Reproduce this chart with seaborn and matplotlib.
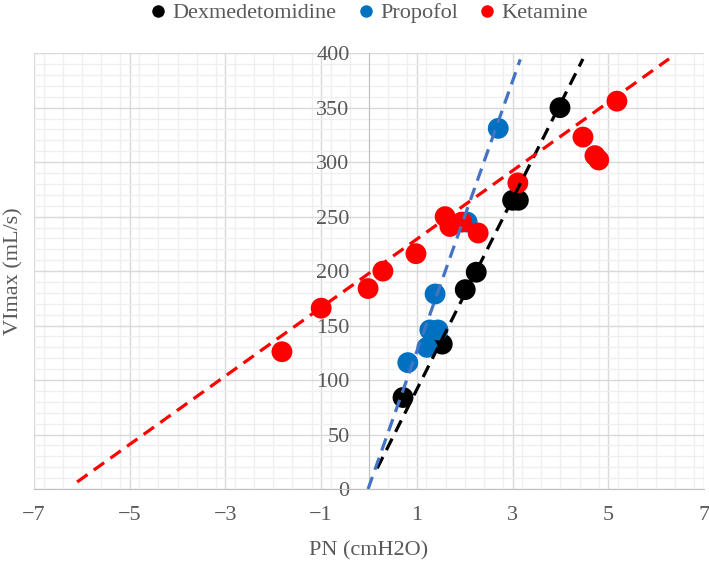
import matplotlib
matplotlib.use("Agg")
import matplotlib.pyplot as plt
import numpy as np
import pandas as pd
import seaborn as sns
from matplotlib.ticker import MultipleLocator

# values
dex_x = [0.71, 1.53, 2.01, 2.24, 3.00, 3.12, 3.99]
dex_y = [84, 133, 183, 199, 265, 265, 350]
prop_x = [0.81, 1.21, 1.27, 1.44, 1.38, 2.05, 2.70]
prop_y = [116, 130, 146, 146, 179, 245, 331]
ket_x = [-1.82, -1.00, -0.02, 0.29, 0.98, 1.59, 1.69, 1.94, 2.28, 3.11, 4.47, 4.72, 4.80, 5.18]
ket_y = [126, 166, 184, 200, 216, 250, 241, 245, 235, 281, 323, 306, 302, 356]

drugs = ["Dexmedetomidine", "Propofol", "Ketamine"]
# linear trend lines as shown in the chart (slope, intercept, x from, x to)
trend_slope = [87.4, 124.0, 31.4]
trend_icpt = [4.1, 2.5, 198.0]
trend_from = [0.17, -0.02, -6.1]
trend_to = [4.47, 3.16, 6.27]

colors = {"Dexmedetomidine": "#000000", "Propofol": "#0070C0", "Ketamine": "#FF0000"}
trend_colors = ["#000000", "#4472C4", "#FF0000"]

df = pd.concat([
    pd.DataFrame({"PN": dex_x, "VImax": dex_y, "drug": "Dexmedetomidine"}),
    pd.DataFrame({"PN": prop_x, "VImax": prop_y, "drug": "Propofol"}),
    pd.DataFrame({"PN": ket_x, "VImax": ket_y, "drug": "Ketamine"}),
], ignore_index=True)

sns.set_style("white")
plt.rcParams['font.family'] = ['Liberation Serif', 'DejaVu Serif']
grey = "#595959"

fig = plt.figure(figsize=(7.09, 5.66), dpi=100)
ax = fig.add_axes([0.048, 0.136, 0.945, 0.770])

sns.scatterplot(data=df, x="PN", y="VImax", hue="drug", hue_order=drugs,
                palette=colors, s=225, linewidth=0, ax=ax, zorder=3, legend=True)

# trend lines, drawn over the markers
for i in range(len(drugs)):
    xs = np.array([trend_from[i], trend_to[i]])
    ax.plot(xs, trend_slope[i] * xs + trend_icpt[i], color=trend_colors[i],
            lw=2.3, dashes=(4, 2.4), zorder=4)

ax.set_xlim(-7, 7)
ax.set_ylim(0, 400)
ax.xaxis.set_minor_locator(MultipleLocator(0.4))
ax.yaxis.set_major_locator(MultipleLocator(50))
ax.yaxis.set_minor_locator(MultipleLocator(10))
ax.set_xticks([-7, -5, -3, -1, 1, 3, 5, 7])
ax.set_xticklabels(["\u22127", "\u22125", "\u22123", "\u22121", "1", "3", "5", "7"])

ax.grid(which="major", color="#d9d9d9", lw=1.0, zorder=0)
ax.grid(which="minor", color="#efefef", lw=0.9, zorder=0)
ax.set_axisbelow(True)

for s in ["top", "right"]:
    ax.spines[s].set_visible(False)
ax.spines["left"].set_position(("data", 0))
ax.spines["left"].set_color("#bfbfbf")
ax.spines["bottom"].set_color("#bfbfbf")
ax.tick_params(which="major", direction="out", length=5, width=1, color="#bfbfbf",
               labelcolor=grey, labelsize=16)
ax.tick_params(axis="x", pad=7)
ax.tick_params(axis="y", pad=9)
ax.tick_params(which="minor", length=0)

ax.set_xlabel("PN (cmH2O)", fontsize=16, color=grey)
ax.set_ylabel("VImax (mL/s)", fontsize=16, color=grey)
ax.xaxis.set_label_coords(0.5, -0.12)
ax.yaxis.set_label_coords(-0.015, 0.5)

handles, labels = ax.get_legend_handles_labels()
ax.legend(handles[:3], labels[:3], loc="center", bbox_to_anchor=(0.52, 0.977),
          bbox_transform=fig.transFigure, ncol=3, frameon=False,
          markerscale=0.6, handlelength=0.8, handletextpad=0.25,
          columnspacing=0.9, fontsize=16, labelcolor=grey)

fig.savefig("out.png", dpi=100)
